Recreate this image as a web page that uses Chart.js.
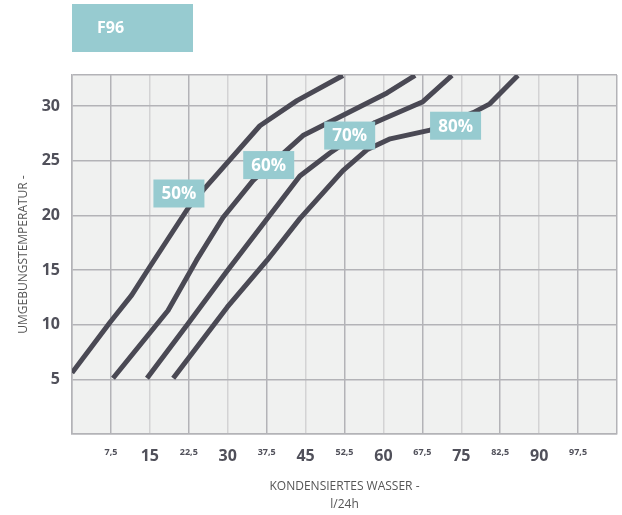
<!DOCTYPE html>
<html><head><meta charset="utf-8">
<script src="https://cdn.jsdelivr.net/npm/chart.js@4"></script>
<style>html,body{margin:0;padding:0;background:#fff;overflow:hidden}#wrap{width:622px;height:515px;position:relative}canvas{display:block}</style>
</head><body><div id="wrap"><canvas id="c"></canvas></div>
<script>
const chartTitle = 'F96';
const xAxisTitle = ['KONDENSIERTES WASSER -', 'l/24h'];
const yAxisTitle = 'UMGEBUNGSTEMPERATUR -';
const seriesNames = ['50%', '60%', '70%', '80%'];

const rh50X = [0, 7.3, 11.5, 15, 22.35, 25.6, 36.2, 43.35, 52.2];
const rh50Y = [5.6, 10.2, 12.7, 15.3, 20.65, 22.5, 28.2, 30.5, 32.8];
const rh60X = [7.9, 18.5, 24.0, 29.1, 34.9, 44.5, 60.7, 66.1];
const rh60Y = [5.1, 11.3, 15.9, 19.8, 23.2, 27.3, 31.2, 32.8];
const rh70X = [14.45, 22.2, 29.7, 43.9, 49.7, 58.4, 67.6, 73.2];
const rh70Y = [5.1, 10.0, 14.8, 23.6, 25.7, 28.5, 30.4, 32.8];
const rh80X = [19.5, 29.9, 37.6, 43.9, 52.2, 56.8, 61.3, 69.0, 77.3, 80.5, 85.9];
const rh80Y = [5.1, 11.6, 15.9, 19.7, 24.1, 26.0, 27.0, 27.8, 29.4, 30.2, 32.8];

const xMin = 0, xMax = 105, xStep = 7.5, xMajorEvery = 15;
const yMin = 0, yMax = 32.84, yStep = 5;

const labelTexts = ['50%', '60%', '70%', '80%'];
const labelX = [20.6, 37.9, 53.5, 73.9];
const labelY = [22.0, 24.6, 27.3, 28.2];

const TEAL = '#97cbd0';
const LINE = '#4a4954';
const GRID_DARK = '#b3b3b7';
const GRID_LIGHT = '#d3d3d4';
const TEXT = '#50505a';
const FONT = "'Open Sans', sans-serif";

function pts(xs, ys) { return xs.map((x, i) => ({x: x, y: ys[i]})); }
const allX = [rh50X, rh60X, rh70X, rh80X];
const allY = [rh50Y, rh60Y, rh70Y, rh80Y];

const bgPlugin = {
  id: 'bg',
  beforeDraw(chart) {
    const {ctx, chartArea: a} = chart;
    ctx.save();
    ctx.fillStyle = '#f0f1f0';
    ctx.fillRect(a.left, a.top, a.right - a.left, a.bottom - a.top);
    ctx.fillStyle = TEAL;
    ctx.fillRect(a.left, 4, 121, 48);
    ctx.fillStyle = '#ffffff';
    ctx.font = "bold 16px " + FONT;
    ctx.textBaseline = 'middle';
    ctx.textAlign = 'left';
    ctx.fillText(chartTitle, a.left + 25, 28.5);
    ctx.restore();
  }
};

const tagPlugin = {
  id: 'tags',
  afterDatasetsDraw(chart) {
    const {ctx} = chart;
    const xs = chart.scales.x, ys = chart.scales.y;
    ctx.save();
    ctx.font = "bold 17px " + FONT;
    ctx.textAlign = 'center';
    ctx.textBaseline = 'middle';
    labelTexts.forEach((t, i) => {
      const cx = xs.getPixelForValue(labelX[i]);
      const cy = ys.getPixelForValue(labelY[i]);
      ctx.fillStyle = TEAL;
      ctx.fillRect(cx - 25.5, cy - 14, 51, 28);
      ctx.fillStyle = '#ffffff';
      ctx.fillText(t, cx, cy + 1);
    });
    ctx.restore();
  }
};

new Chart(document.getElementById('c'), {
  type: 'line',
  data: {
    datasets: seriesNames.map((n, i) => ({
      label: n,
      data: pts(allX[i], allY[i]),
      borderColor: LINE,
      borderWidth: 5,
      pointRadius: 0,
      tension: 0,
      borderCapStyle: 'butt',
      borderJoinStyle: 'round',
      fill: false
    }))
  },
  options: {
    responsive: true,
    maintainAspectRatio: false,
    animation: false,
    layout: {padding: {top: 75, right: 5, left: 0, bottom: 0}},
    plugins: {legend: {display: false}, tooltip: {enabled: false}},
    scales: {
      x: {
        type: 'linear',
        min: xMin, max: xMax,
        afterFit: s => { s.height = 81; s.paddingRight = 0; s.paddingLeft = 0; },
        border: {display: true, color: GRID_DARK, width: 1.5},
        grid: {
          drawTicks: false,
          lineWidth: 1.5,
          color: c => {
            const v = c.tick ? c.tick.value : 0;
            return (v % xMajorEvery === 0 && v !== xMin && v !== xMax) ? GRID_LIGHT : GRID_DARK;
          }
        },
        ticks: {
          stepSize: xStep,
          autoSkip: false,
          maxRotation: 0,
          padding: 11,
          color: TEXT,
          font: c => {
            const v = c.tick ? c.tick.value : 0;
            return (v % xMajorEvery === 0) ? {family: FONT, size: 16, weight: 'bold', lineHeight: 1.45}
                                            : {family: FONT, size: 9, weight: 'bold', lineHeight: 1.6};
          },
          callback: v => (v === xMin || v === xMax) ? '' : String(v).replace('.', ',')
        },
        title: {
          display: true, text: xAxisTitle, color: '#555',
          font: {family: FONT, size: 12, lineHeight: 1.5},
          padding: {top: 0, bottom: 1}
        }
      },
      y: {
        type: 'linear',
        min: yMin, max: yMax,
        afterFit: s => { s.width = 72; },
        border: {display: true, color: GRID_DARK, width: 1.5},
        grid: {drawTicks: false, lineWidth: 1.5, color: GRID_DARK},
        ticks: {
          stepSize: yStep,
          padding: 12,
          color: TEXT,
          font: {family: FONT, size: 16, weight: 'bold'},
          callback: v => (v > 0 && v % yStep === 0) ? String(v) : ''
        },
        title: {
          display: true, text: yAxisTitle, color: '#555',
          font: {family: FONT, size: 12, lineHeight: 1.2},
          padding: {top: 16, bottom: 0}
        }
      }
    }
  },
  plugins: [bgPlugin, tagPlugin]
});
</script></body></html>
